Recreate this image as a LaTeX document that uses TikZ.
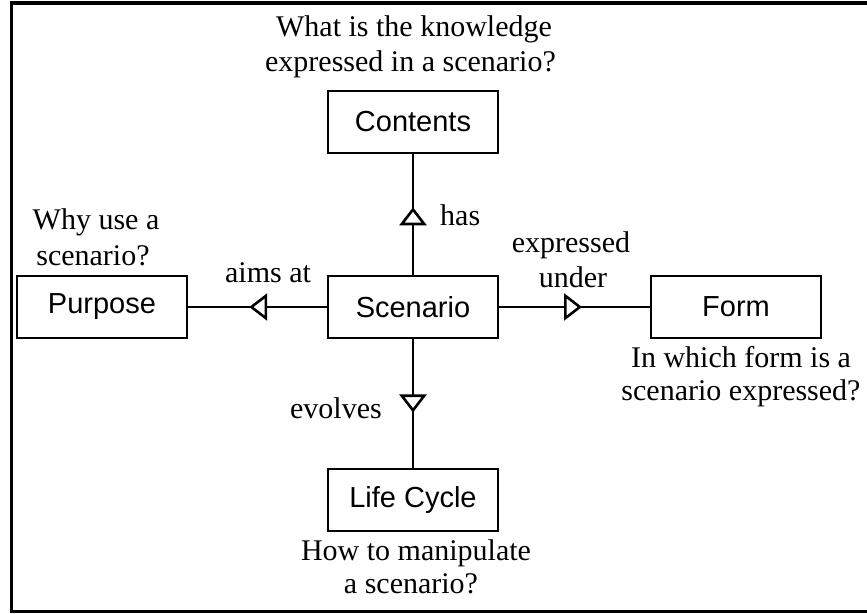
\documentclass[tikz,border=0pt]{standalone}
\usepackage{fontspec}
\setmainfont{Liberation Serif}
\newfontfamily\boxfont{Liberation Sans}
\usetikzlibrary{arrows.meta,decorations.markings}
\begin{document}
\begin{tikzpicture}[x=1pt,y=-1pt,
  entity/.style={draw,line width=2.6pt,minimum width=170pt,minimum height=62pt,inner sep=0pt,font=\boxfont\fontsize{29}{34}\selectfont},
  lbl/.style={inner sep=0pt,font=\fontsize{30}{35}\selectfont},
  rel/.style={line width=2.6pt,postaction={decorate,decoration={markings,
     mark=at position #1 with {\arrow{Triangle[fill=white,length=18pt,width=27pt,line width=2.6pt]}}}}}]
\useasboundingbox (0,0) rectangle (867,613);
\draw[line width=3.5pt] (11.5,3) rectangle (885,611.5);

\node[entity] (scen) at (413,307) {Scenario};
\node[entity] (cont) at (413,122) {Contents};
\node[entity] (purp) at (102,307) {Purpose};
\node[entity] (form) at (736,307) {Form};
\node[entity] (life) at (413,500) {Life Cycle};

\draw[rel=0.56] (scen) -- (cont);
\draw[rel=0.56] (scen) -- (purp);
\draw[rel=0.55] (scen) -- (form);
\draw[rel=0.57] (scen) -- (life);

\node[lbl,anchor=base] (q1a) at (414,36) {What is the knowledge};
\node[lbl,anchor=base] (q1b) at (410.5,71) {expressed in a scenario?};
\node[lbl,anchor=base west] (has) at (440,225) {has};
\node[lbl,anchor=base] (q2a) at (96,229) {Why use a};
\node[lbl,anchor=base] (q2b) at (93,265) {scenario?};
\node[lbl,anchor=base] (aims) at (268,282) {aims at};
\node[lbl,anchor=base] (expa) at (571,252) {expressed};
\node[lbl,anchor=base] (expb) at (573,287) {under};
\node[lbl,anchor=base] (q3a) at (741,367) {In which form is a};
\node[lbl,anchor=base] (q3b) at (741,400) {scenario expressed?};
\node[lbl,anchor=base east] (evol) at (382,418) {evolves};
\node[lbl,anchor=base] (q4a) at (416,560) {How to manipulate};
\node[lbl,anchor=base] (q4b) at (411,593) {a scenario?};
\end{tikzpicture}
\end{document}
